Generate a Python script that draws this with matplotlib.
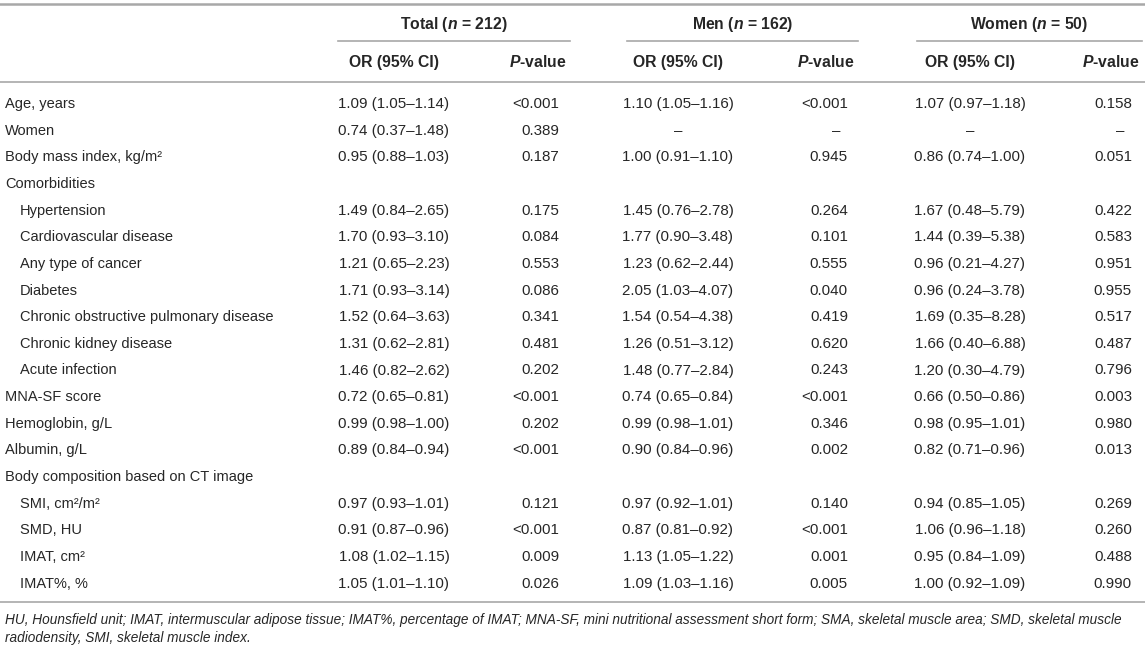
import matplotlib.pyplot as plt

plt.rcParams["font.family"] = "Liberation Sans"
plt.rcParams["mathtext.fontset"] = "custom"
plt.rcParams["mathtext.it"] = "Liberation Sans:italic:bold"
plt.rcParams["mathtext.rm"] = "Liberation Sans:bold"
plt.rcParams["mathtext.bf"] = "Liberation Sans:bold"

# --------------------------------------------------
# Table data
# --------------------------------------------------
groups = [r"Total ($n$ = 212)", r"Men ($n$ = 162)", r"Women ($n$ = 50)"]

labels = [
    "Age, years", "Women", "Body mass index, kg/m²", "Comorbidities",
    "Hypertension", "Cardiovascular disease", "Any type of cancer", "Diabetes",
    "Chronic obstructive pulmonary disease", "Chronic kidney disease",
    "Acute infection", "MNA-SF score", "Hemoglobin, g/L", "Albumin, g/L",
    "Body composition based on CT image", "SMI, cm²/m²", "SMD, HU",
    "IMAT, cm²", "IMAT%, %",
]
indent = [0, 0, 0, 0, 1, 1, 1, 1, 1, 1, 1, 0, 0, 0, 0, 1, 1, 1, 1]

or_total = [
    "1.09 (1.05–1.14)", "0.74 (0.37–1.48)", "0.95 (0.88–1.03)", "",
    "1.49 (0.84–2.65)", "1.70 (0.93–3.10)", "1.21 (0.65–2.23)", "1.71 (0.93–3.14)",
    "1.52 (0.64–3.63)", "1.31 (0.62–2.81)", "1.46 (0.82–2.62)", "0.72 (0.65–0.81)",
    "0.99 (0.98–1.00)", "0.89 (0.84–0.94)", "", "0.97 (0.93–1.01)",
    "0.91 (0.87–0.96)", "1.08 (1.02–1.15)", "1.05 (1.01–1.10)",
]
p_total = [
    "<0.001", "0.389", "0.187", "", "0.175", "0.084", "0.553", "0.086", "0.341",
    "0.481", "0.202", "<0.001", "0.202", "<0.001", "", "0.121", "<0.001",
    "0.009", "0.026",
]
or_men = [
    "1.10 (1.05–1.16)", "–", "1.00 (0.91–1.10)", "",
    "1.45 (0.76–2.78)", "1.77 (0.90–3.48)", "1.23 (0.62–2.44)", "2.05 (1.03–4.07)",
    "1.54 (0.54–4.38)", "1.26 (0.51–3.12)", "1.48 (0.77–2.84)", "0.74 (0.65–0.84)",
    "0.99 (0.98–1.01)", "0.90 (0.84–0.96)", "", "0.97 (0.92–1.01)",
    "0.87 (0.81–0.92)", "1.13 (1.05–1.22)", "1.09 (1.03–1.16)",
]
p_men = [
    "<0.001", "–", "0.945", "", "0.264", "0.101", "0.555", "0.040", "0.419",
    "0.620", "0.243", "<0.001", "0.346", "0.002", "", "0.140", "<0.001",
    "0.001", "0.005",
]
or_women = [
    "1.07 (0.97–1.18)", "–", "0.86 (0.74–1.00)", "",
    "1.67 (0.48–5.79)", "1.44 (0.39–5.38)", "0.96 (0.21–4.27)", "0.96 (0.24–3.78)",
    "1.69 (0.35–8.28)", "1.66 (0.40–6.88)", "1.20 (0.30–4.79)", "0.66 (0.50–0.86)",
    "0.98 (0.95–1.01)", "0.82 (0.71–0.96)", "", "0.94 (0.85–1.05)",
    "1.06 (0.96–1.18)", "0.95 (0.84–1.09)", "1.00 (0.92–1.09)",
]
p_women = [
    "0.158", "–", "0.051", "", "0.422", "0.583", "0.951", "0.955", "0.517",
    "0.487", "0.796", "0.003", "0.980", "0.013", "", "0.269", "0.260",
    "0.488", "0.990",
]

footnote = [
    "HU, Hounsfield unit; IMAT, intermuscular adipose tissue; IMAT%, percentage of IMAT; "
    "MNA-SF, mini nutritional assessment short form; SMA, skeletal muscle area; SMD, skeletal muscle",
    "radiodensity, SMI, skeletal muscle index.",
]

# --------------------------------------------------
# Layout (pixel coordinates)
# --------------------------------------------------
W, H = 1145, 650
fig = plt.figure(figsize=(W / 100, H / 100), dpi=100)
ax = fig.add_axes([0, 0, 1, 1])
ax.set_xlim(0, W)
ax.set_ylim(H, 0)
ax.axis("off")

txt = "#262626"
line_c = "#a8a8a8"
fs_lab = 10.5
fs_num = 10.9
fs_head = 11.3

span = [(338, 570), (627, 858), (917, 1142)]
or_x = [394, 678, 970]
p_x = [559, 848, 1132]
p_head_x = [567, 855, 1140]

# rules
ax.plot([0, W], [4, 4], color=line_c, lw=1.8)
ax.plot([0, W], [82, 82], color=line_c, lw=1.2)
ax.plot([0, W], [602, 602], color=line_c, lw=1.2)
for (x0, x1) in span:
    ax.plot([x0, x1], [41, 41], color=line_c, lw=1.2)

# headers
for g, (x0, x1), ox, px in zip(groups, span, or_x, p_head_x):
    ax.text((x0 + x1) / 2, 24, g, ha="center", va="center", fontsize=fs_head,
            fontweight="bold", color=txt)
    ax.text(ox, 62, "OR (95% CI)", ha="center", va="center", fontsize=fs_head,
            fontweight="bold", color=txt)
    ax.text(px, 62, r"$P$-value", ha="right", va="center", fontsize=fs_head,
            fontweight="bold", color=txt)

# body rows
row_y0, row_h = 104, 26.65
cols = [(or_total, p_total), (or_men, p_men), (or_women, p_women)]
for i, lab in enumerate(labels):
    y = row_y0 + i * row_h
    ax.text(5 + 15 * indent[i], y, lab, ha="left", va="center", fontsize=fs_lab, color=txt)
    for (ors, ps), ox, px in zip(cols, or_x, p_x):
        ax.text(ox, y, ors[i], ha="center", va="center", fontsize=fs_num, color=txt)
        if ps[i] == "–":
            ax.text(px - 12, y, ps[i], ha="center", va="center", fontsize=fs_num, color=txt)
        else:
            ax.text(px, y, ps[i], ha="right", va="center", fontsize=fs_num, color=txt)

for k, line in enumerate(footnote):
    ax.text(5, 620 + k * 18, line, ha="left", va="center", fontsize=9.85,
            style="italic", color=txt)

plt.savefig("out.png", dpi=100)
